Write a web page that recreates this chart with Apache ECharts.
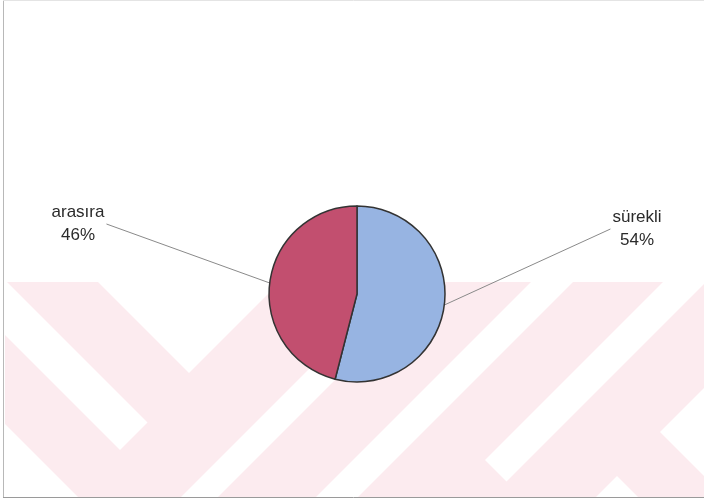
<!DOCTYPE html>
<html>
<head>
<meta charset="utf-8">
<script src="https://cdn.jsdelivr.net/npm/echarts@6/dist/echarts.min.js"></script>
<style>
  html, body { margin: 0; padding: 0; background: #ffffff; }
  #chart { width: 704px; height: 501px; }
</style>
</head>
<body>
<div id="chart"></div>
<script>
// ---- data ----
const categories = ['sürekli', 'arasıra'];
const values = [54, 46];

// ---- styling / layout (not data) ----
const sliceColors = ['#97b4e2', '#c24f6f'];
const labelCenters = [[637, 229], [78, 224]];
const pink = '#fcebef';

// decorative scan watermark (background only)
const whiteShapes = [
  [[5,282],[7,282],[147.5,422.5],[120,450],[5,335]],
  [[98,282],[189,373],[280,282]],
  [[5,424],[78,497],[5,497]],
  [[181,497],[218,497],[433,282],[396,282]],
  [[316,497],[358,497],[573,282],[531,282]],
  [[485,460],[506.5,481.5],[706,282],[663,282]],
  [[704,388],[660,432],[704,476]],
  [[596,497],[617,476],[638,497]]
];

const graphics = [
  { type: 'rect', z: 0, shape: { x: 5, y: 282, width: 699, height: 215 }, style: { fill: pink } }
].concat(whiteShapes.map(p => ({ type: 'polygon', z: 0, shape: { points: p }, style: { fill: '#ffffff' } })))
 .concat([
  { type: 'line', z: 1, shape: { x1: 3.5, y1: 0, x2: 3.5, y2: 497 }, style: { stroke: '#b8b8b8', lineWidth: 1 } },
  { type: 'line', z: 1, shape: { x1: 3, y1: 497.5, x2: 704, y2: 497.5 }, style: { stroke: '#9a9a9a', lineWidth: 1 } },
  { type: 'line', z: 1, shape: { x1: 3, y1: 0.5, x2: 704, y2: 0.5 }, style: { stroke: '#e4e4e4', lineWidth: 1 } }
]);

const chart = echarts.init(document.getElementById('chart'), null, { renderer: 'canvas' });

chart.setOption({
  backgroundColor: '#ffffff',
  animation: false,
  graphic: { elements: graphics },
  series: [{
    type: 'pie',
    z: 5,
    center: [357, 294],
    radius: 88,
    startAngle: 90,
    clockwise: true,
    avoidLabelOverlap: false,
    data: categories.map((c, i) => ({
      name: c,
      value: values[i],
      itemStyle: { color: sliceColors[i] }
    })),
    itemStyle: { borderColor: '#333333', borderWidth: 1.5 },
    label: {
      show: true,
      position: 'outside',
      formatter: '{b}\n{d}%',
      fontFamily: '"Liberation Sans", Arial, sans-serif',
      fontSize: 17,
      lineHeight: 23,
      color: '#2b2b2b',
      align: 'center'
    },
    labelLine: {
      show: true,
      length: 20,
      length2: 20,
      smooth: false,
      lineStyle: { color: '#8a8a8a', width: 1 }
    },
    labelLayout: function (params) {
      const c = labelCenters[params.dataIndex];
      const w = params.labelRect.width;
      const isLeft = c[0] < 357;
      const end = isLeft ? [c[0] + w / 2 + 2, c[1]] : [c[0] - w / 2 - 2, c[1]];
      const start = params.labelLinePoints ? params.labelLinePoints[0] : end;
      return {
        x: c[0],
        y: c[1],
        align: 'center',
        verticalAlign: 'middle',
        labelLinePoints: [start, end, end]
      };
    },
    emphasis: { disabled: true }
  }]
});
</script>
</body>
</html>
